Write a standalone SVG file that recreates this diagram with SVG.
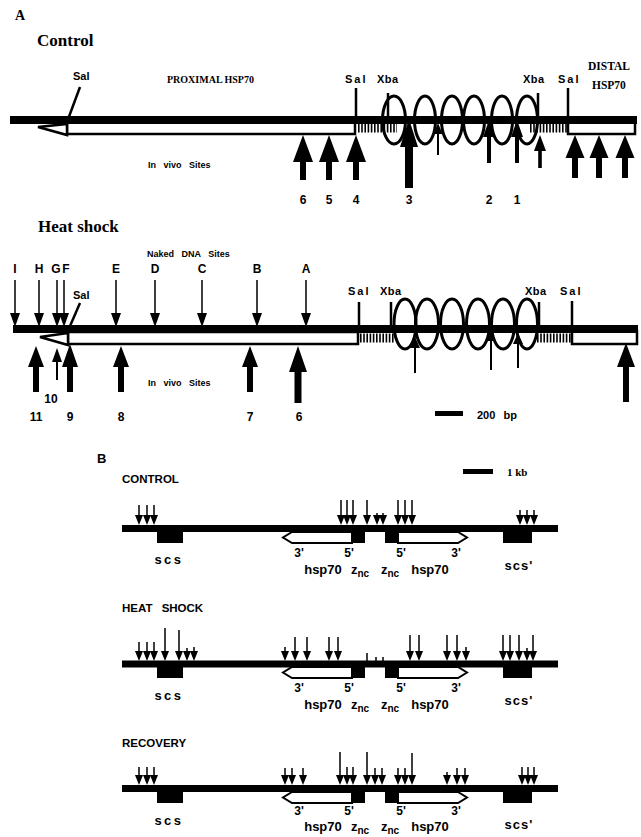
<svg xmlns="http://www.w3.org/2000/svg" width="641" height="837" viewBox="0 0 641 837">
<style>
.bar{stroke:#000;stroke-width:8;fill:none}
.box{fill:#fff;stroke:#000;stroke-width:2.5}
.hatch{stroke:#000;stroke-width:9;stroke-dasharray:1.6 1.6;fill:none}
.site{stroke:#000;stroke-width:2.5;fill:none}
.loop{fill:none;stroke:#000;stroke-width:3}
.ar{fill:#000}
.sh{stroke:#000;stroke-width:1.5;fill:none}
.bl{stroke:#000;stroke-width:7;fill:none}
.blk{fill:#000}
.gb{fill:#fff;stroke:#000;stroke-width:2}
.ser{font-family:"Liberation Serif","Times New Roman",serif;font-weight:bold;fill:#000}
.sans{font-family:"Liberation Sans",Arial,sans-serif;font-weight:bold;fill:#000}
.mid{text-anchor:middle}
</style>
<defs>
<path id="dh" d="M-5,-14 L5,-14 L0,0 Z"/>
<path id="bh" d="M-4,-10 L4,-10 L0,0 Z"/>
</defs>
<rect width="641" height="837" fill="#fff"/>

<g id="panelA-title">
<text class="ser" x="15" y="20" font-size="14">A</text>
</g>

<!-- ===== Control ===== -->
<g id="control">
<text class="ser" x="37" y="46" font-size="17">Control</text>
<text class="sans" x="73" y="80" font-size="11">Sal</text>
<text class="ser" x="167" y="83" font-size="10">PROXIMAL HSP70</text>
<text class="ser" x="588" y="70" font-size="11.5">DISTAL</text>
<text class="ser" x="592" y="89" font-size="11.5">HSP70</text>
<text class="sans" x="345" y="83" font-size="11" letter-spacing="2">Sal</text>
<text class="sans" x="377" y="83" font-size="11" letter-spacing="0.5">Xba</text>
<text class="sans" x="523" y="83" font-size="11" letter-spacing="0.5">Xba</text>
<text class="sans" x="558" y="83" font-size="11" letter-spacing="2">Sal</text>
<text class="sans" x="148" y="168" font-size="9" word-spacing="5">In vivo Sites</text>

<rect class="box" x="67" y="122" width="288" height="12"/>
<polygon class="box" points="38,127 67,124 67,135"/>
<rect class="box" x="568" y="122" width="67" height="12"/>
<line class="hatch" x1="358" y1="128" x2="397" y2="128"/>
<line class="hatch" x1="530" y1="128" x2="568" y2="128"/>
<line class="bar" x1="10" y1="120" x2="637" y2="120"/>
<line class="site" x1="80" y1="87" x2="67" y2="122"/>
<line class="site" x1="356" y1="88" x2="356" y2="122"/>
<line class="site" x1="388" y1="93" x2="388" y2="122"/>
<line class="site" x1="538" y1="93" x2="538" y2="122"/>
<line class="site" x1="568" y1="88" x2="568" y2="122"/>
<ellipse class="loop" cx="394" cy="120" rx="11.5" ry="24"/>
<ellipse class="loop" cx="425" cy="120" rx="10.5" ry="24"/>
<ellipse class="loop" cx="452" cy="120" rx="10.5" ry="24"/>
<ellipse class="loop" cx="474" cy="120" rx="10.5" ry="24"/>
<ellipse class="loop" cx="502" cy="120" rx="10.5" ry="24"/>
<ellipse class="loop" cx="527" cy="120" rx="10.5" ry="24"/>

<path class="ar" d="M303 135L313 162L306 162L306 180L300 180L300 162L293 162Z"/>
<path class="ar" d="M329 135L339 162L332 162L332 180L326 180L326 162L319 162Z"/>
<path class="ar" d="M356 135L366 162L359 162L359 180L353 180L353 162L346 162Z"/>
<path class="ar" d="M409 119L418 147L413 147L413 188L405 188L405 147L400 147Z"/>
<path class="ar" d="M438 123L442.5 134L439 134L439 155L437 155L437 134L433.5 134Z"/>
<path class="ar" d="M489 120L495 137L491 137L491 163L487 163L487 137L483 137Z"/>
<path class="ar" d="M517 120L523 137L519 137L519 163L515 163L515 137L511 137Z"/>
<path class="ar" d="M540 135L546 151L541.8 151L541.8 168L538.2 168L538.2 151L534 151Z"/>
<path class="ar" d="M575 135L584.5 158L578 158L578 178L572 178L572 158L565.5 158Z"/>
<path class="ar" d="M599 135L608.5 158L602 158L602 178L596 178L596 158L589.5 158Z"/>
<path class="ar" d="M625 135L634.5 158L628 158L628 178L622 178L622 158L615.5 158Z"/>

<text class="sans mid" x="303" y="204" font-size="12">6</text>
<text class="sans mid" x="329" y="204" font-size="12">5</text>
<text class="sans mid" x="356" y="204" font-size="12">4</text>
<text class="sans mid" x="409" y="204" font-size="12">3</text>
<text class="sans mid" x="489" y="204" font-size="12">2</text>
<text class="sans mid" x="517" y="204" font-size="12">1</text>
</g>

<!-- ===== Heat shock ===== -->
<g id="heatshock">
<text class="ser" x="38" y="232" font-size="17">Heat shock</text>
<text class="sans" x="147" y="257" font-size="9" word-spacing="5">Naked DNA Sites</text>
<text class="sans mid" x="15" y="273" font-size="12">I</text>
<text class="sans mid" x="39" y="273" font-size="12">H</text>
<text class="sans mid" x="56" y="273" font-size="12">G</text>
<text class="sans mid" x="66" y="273" font-size="12">F</text>
<text class="sans mid" x="116" y="273" font-size="12">E</text>
<text class="sans mid" x="155" y="273" font-size="12">D</text>
<text class="sans mid" x="202" y="273" font-size="12">C</text>
<text class="sans mid" x="257" y="273" font-size="12">B</text>
<text class="sans mid" x="306" y="273" font-size="12">A</text>
<text class="sans" x="73" y="299" font-size="11">Sal</text>
<text class="sans" x="348" y="295" font-size="11" letter-spacing="2">Sal</text>
<text class="sans" x="380" y="295" font-size="11" letter-spacing="0.5">Xba</text>
<text class="sans" x="525" y="295" font-size="11" letter-spacing="0.5">Xba</text>
<text class="sans" x="560" y="295" font-size="11" letter-spacing="2">Sal</text>
<text class="sans" x="148" y="386" font-size="9" word-spacing="5">In vivo Sites</text>

<rect class="box" x="68" y="332" width="290" height="12"/>
<polygon class="box" points="40,337 68,333 68,345"/>
<rect class="box" x="572" y="331" width="65" height="13"/>
<line class="hatch" x1="360" y1="338" x2="394" y2="338"/>
<line class="hatch" x1="537" y1="338" x2="571" y2="338"/>
<line class="bar" x1="13" y1="329" x2="638" y2="329"/>
<line class="site" x1="80" y1="303" x2="67" y2="333"/>
<line class="site" x1="359" y1="302" x2="359" y2="331"/>
<line class="site" x1="391" y1="302" x2="391" y2="331"/>
<line class="site" x1="539" y1="302" x2="539" y2="331"/>
<line class="site" x1="572" y1="301" x2="572" y2="331"/>
<ellipse class="loop" cx="405" cy="324" rx="11" ry="25"/>
<ellipse class="loop" cx="427" cy="324" rx="11.5" ry="25"/>
<ellipse class="loop" cx="452" cy="324" rx="11.5" ry="25"/>
<ellipse class="loop" cx="478" cy="324" rx="11.5" ry="25"/>
<ellipse class="loop" cx="503" cy="324" rx="11.5" ry="25"/>
<ellipse class="loop" cx="527" cy="324" rx="10.5" ry="25"/>

<g id="naked-sites">
<line class="sh" x1="15" y1="280" x2="15" y2="314"/><use href="#dh" x="15" y="327"/>
<line class="sh" x1="39" y1="280" x2="39" y2="314"/><use href="#dh" x="39" y="327"/>
<line class="sh" x1="57" y1="280" x2="57" y2="314"/><use href="#dh" x="57" y="327"/>
<line class="sh" x1="64" y1="280" x2="64" y2="314"/><use href="#dh" x="64" y="327"/>
<line class="sh" x1="116" y1="280" x2="116" y2="314"/><use href="#dh" x="116" y="327"/>
<line class="sh" x1="155" y1="280" x2="155" y2="314"/><use href="#dh" x="155" y="327"/>
<line class="sh" x1="202" y1="280" x2="202" y2="314"/><use href="#dh" x="202" y="327"/>
<line class="sh" x1="257" y1="280" x2="257" y2="314"/><use href="#dh" x="257" y="327"/>
<line class="sh" x1="306" y1="280" x2="306" y2="314"/><use href="#dh" x="306" y="327"/>
</g>

<path class="ar" d="M36 346L44 367L39 367L39 392L33 392L33 367L28 367Z"/>
<path class="ar" d="M57 348L62 362L58 362L58 380L56 380L56 362L52 362Z"/>
<path class="ar" d="M70 344L78 367L73 367L73 392L67 392L67 367L62 367Z"/>
<path class="ar" d="M121 346L129 367L124 367L124 392L118 392L118 367L113 367Z"/>
<path class="ar" d="M250 346L258 367L253 367L253 392L247 392L247 367L242 367Z"/>
<path class="ar" d="M298 346L307 372L301.5 372L301.5 403L294.5 403L294.5 372L289 372Z"/>
<path class="ar" d="M415 337L420 348L416 348L416 373L414 373L414 348L410 348Z"/>
<path class="ar" d="M491 331L495 341L492 341L492 370L490 370L490 341L487 341Z"/>
<path class="ar" d="M518 333L523 344L519 344L519 368L517 368L517 344L513 344Z"/>
<path class="ar" d="M626 343L635 367L629 367L629 402L623 402L623 367L617 367Z"/>

<text class="sans mid" x="51" y="403" font-size="12">10</text>
<text class="sans mid" x="36" y="421" font-size="12">11</text>
<text class="sans mid" x="70" y="421" font-size="12">9</text>
<text class="sans mid" x="121" y="421" font-size="12">8</text>
<text class="sans mid" x="250" y="421" font-size="12">7</text>
<text class="sans mid" x="299" y="421" font-size="12">6</text>

<rect class="blk" x="435" y="411" width="28" height="5"/>
<text class="sans" x="477" y="419" font-size="11" word-spacing="5">200 bp</text>
</g>

<!-- ===== Panel B ===== -->
<g id="panelB-title">
<text class="sans" x="97" y="463" font-size="13">B</text>
<rect class="blk" x="463" y="469" width="30" height="5"/>
<text class="ser" x="507" y="476" font-size="11">1 kb</text>
</g>

<g id="b-control">
<text class="sans" x="122" y="483" font-size="11.5">CONTROL</text>
<line class="bl" x1="122" y1="528.5" x2="558" y2="528.5"/>
<rect class="blk" x="157" y="525" width="26" height="18"/>
<rect class="blk" x="503" y="525" width="29" height="18"/>
<rect class="blk" x="352" y="525" width="13" height="18"/>
<rect class="blk" x="385" y="525" width="13" height="18"/>
<polygon class="gb" points="352,532 292,532 283,537.5 292,543 352,543"/>
<polygon class="gb" points="398,532 458,532 467,537.5 458,543 398,543"/>
<g id="b-control-sites">
<line class="sh" x1="139" y1="505" x2="139" y2="516"/><use href="#bh" x="139" y="525"/>
<line class="sh" x1="147" y1="505" x2="147" y2="516"/><use href="#bh" x="147" y="525"/>
<line class="sh" x1="154" y1="505" x2="154" y2="516"/><use href="#bh" x="154" y="525"/>
<line class="sh" x1="341" y1="500" x2="341" y2="516"/><use href="#bh" x="341" y="525"/>
<line class="sh" x1="347" y1="500" x2="347" y2="516"/><use href="#bh" x="347" y="525"/>
<line class="sh" x1="353" y1="500" x2="353" y2="516"/><use href="#bh" x="353" y="525"/>
<line class="sh" x1="367" y1="500" x2="367" y2="516"/><use href="#bh" x="367" y="525"/>
<line class="sh" x1="377" y1="513" x2="377" y2="516"/><use href="#bh" x="377" y="525"/>
<line class="sh" x1="383" y1="513" x2="383" y2="516"/><use href="#bh" x="383" y="525"/>
<line class="sh" x1="398" y1="500" x2="398" y2="516"/><use href="#bh" x="398" y="525"/>
<line class="sh" x1="405" y1="500" x2="405" y2="516"/><use href="#bh" x="405" y="525"/>
<line class="sh" x1="412" y1="500" x2="412" y2="516"/><use href="#bh" x="412" y="525"/>
<line class="sh" x1="520" y1="510" x2="520" y2="516"/><use href="#bh" x="520" y="525"/>
<line class="sh" x1="527" y1="510" x2="527" y2="516"/><use href="#bh" x="527" y="525"/>
<line class="sh" x1="534" y1="510" x2="534" y2="516"/><use href="#bh" x="534" y="525"/>
</g>
<text class="sans mid" x="169" y="564" font-size="13" letter-spacing="2.5">scs</text>
<text class="sans mid" x="299" y="557" font-size="12">3'</text>
<text class="sans mid" x="349" y="557" font-size="12">5'</text>
<text class="sans mid" x="401" y="557" font-size="12">5'</text>
<text class="sans mid" x="456" y="557" font-size="12">3'</text>
<text class="sans mid" x="323" y="574" font-size="13">hsp70</text>
<text class="sans" x="351" y="574" font-size="13">z<tspan font-size="10" dy="3">nc</tspan></text>
<text class="sans" x="381" y="574" font-size="13">z<tspan font-size="10" dy="3">nc</tspan></text>
<text class="sans mid" x="430" y="574" font-size="13">hsp70</text>
<text class="sans mid" x="519" y="570" font-size="13" letter-spacing="1">scs'</text>
</g>

<g id="b-heatshock">
<text class="sans" x="122" y="612" font-size="11.5" word-spacing="6">HEAT SHOCK</text>
<line class="bl" x1="122" y1="664" x2="558" y2="664"/>
<rect class="blk" x="157" y="661" width="26" height="17"/>
<rect class="blk" x="503" y="661" width="29" height="17"/>
<rect class="blk" x="352" y="661" width="13" height="17"/>
<rect class="blk" x="385" y="661" width="13" height="17"/>
<polygon class="gb" points="352,667 292,667 283,672.5 292,678 352,678"/>
<polygon class="gb" points="398,667 458,667 467,672.5 458,678 398,678"/>
<g id="b-heat-sites">
<line class="sh" x1="139" y1="642" x2="139" y2="652"/><use href="#bh" x="139" y="661"/>
<line class="sh" x1="147" y1="642" x2="147" y2="652"/><use href="#bh" x="147" y="661"/>
<line class="sh" x1="154" y1="642" x2="154" y2="652"/><use href="#bh" x="154" y="661"/>
<line class="sh" x1="165" y1="628" x2="165" y2="652"/><use href="#bh" x="165" y="661"/>
<line class="sh" x1="179" y1="630" x2="179" y2="652"/><use href="#bh" x="179" y="661"/>
<line class="sh" x1="187" y1="648" x2="187" y2="652"/><use href="#bh" x="187" y="661"/>
<line class="sh" x1="194" y1="647" x2="194" y2="652"/><use href="#bh" x="194" y="661"/>
<line class="sh" x1="285" y1="647" x2="285" y2="652"/><use href="#bh" x="285" y="661"/>
<line class="sh" x1="295" y1="637" x2="295" y2="652"/><use href="#bh" x="295" y="661"/>
<line class="sh" x1="307" y1="637" x2="307" y2="652"/><use href="#bh" x="307" y="661"/>
<line class="sh" x1="329" y1="637" x2="329" y2="652"/><use href="#bh" x="329" y="661"/>
<line class="sh" x1="338" y1="637" x2="338" y2="652"/><use href="#bh" x="338" y="661"/>
<line class="sh" x1="367" y1="653" x2="367" y2="661"/>
<line class="sh" x1="376" y1="657" x2="376" y2="661"/>
<line class="sh" x1="383" y1="657" x2="383" y2="661"/>
<line class="sh" x1="410" y1="635" x2="410" y2="652"/><use href="#bh" x="410" y="661"/>
<line class="sh" x1="419" y1="635" x2="419" y2="652"/><use href="#bh" x="419" y="661"/>
<line class="sh" x1="447" y1="635" x2="447" y2="652"/><use href="#bh" x="447" y="661"/>
<line class="sh" x1="457" y1="635" x2="457" y2="652"/><use href="#bh" x="457" y="661"/>
<line class="sh" x1="466" y1="647" x2="466" y2="652"/><use href="#bh" x="466" y="661"/>
<line class="sh" x1="503" y1="635" x2="503" y2="652"/><use href="#bh" x="503" y="661"/>
<line class="sh" x1="510" y1="635" x2="510" y2="652"/><use href="#bh" x="510" y="661"/>
<line class="sh" x1="519" y1="635" x2="519" y2="652"/><use href="#bh" x="519" y="661"/>
<line class="sh" x1="527" y1="648" x2="527" y2="652"/><use href="#bh" x="527" y="661"/>
<line class="sh" x1="533" y1="635" x2="533" y2="652"/><use href="#bh" x="533" y="661"/>
</g>
<text class="sans mid" x="169" y="700" font-size="13" letter-spacing="2.5">scs</text>
<text class="sans mid" x="299" y="692" font-size="12">3'</text>
<text class="sans mid" x="349" y="692" font-size="12">5'</text>
<text class="sans mid" x="401" y="692" font-size="12">5'</text>
<text class="sans mid" x="456" y="692" font-size="12">3'</text>
<text class="sans mid" x="323" y="709" font-size="13">hsp70</text>
<text class="sans" x="351" y="709" font-size="13">z<tspan font-size="10" dy="3">nc</tspan></text>
<text class="sans" x="381" y="709" font-size="13">z<tspan font-size="10" dy="3">nc</tspan></text>
<text class="sans mid" x="430" y="709" font-size="13">hsp70</text>
<text class="sans mid" x="519" y="705" font-size="13" letter-spacing="1">scs'</text>
</g>

<g id="b-recovery">
<text class="sans" x="122" y="747" font-size="11.5">RECOVERY</text>
<line class="bl" x1="122" y1="788.5" x2="558" y2="788.5"/>
<rect class="blk" x="157" y="785" width="26" height="18"/>
<rect class="blk" x="503" y="785" width="29" height="18"/>
<rect class="blk" x="352" y="785" width="13" height="18"/>
<rect class="blk" x="385" y="785" width="13" height="18"/>
<polygon class="gb" points="352,792 292,792 283,797.5 292,803 352,803"/>
<polygon class="gb" points="398,792 458,792 467,797.5 458,803 398,803"/>
<g id="b-recovery-sites">
<line class="sh" x1="139" y1="767" x2="139" y2="776"/><use href="#bh" x="139" y="785"/>
<line class="sh" x1="147" y1="767" x2="147" y2="776"/><use href="#bh" x="147" y="785"/>
<line class="sh" x1="154" y1="767" x2="154" y2="776"/><use href="#bh" x="154" y="785"/>
<line class="sh" x1="285" y1="768" x2="285" y2="776"/><use href="#bh" x="285" y="785"/>
<line class="sh" x1="292" y1="768" x2="292" y2="776"/><use href="#bh" x="292" y="785"/>
<line class="sh" x1="303" y1="768" x2="303" y2="776"/><use href="#bh" x="303" y="785"/>
<line class="sh" x1="340" y1="752" x2="340" y2="776"/><use href="#bh" x="340" y="785"/>
<line class="sh" x1="347" y1="767" x2="347" y2="776"/><use href="#bh" x="347" y="785"/>
<line class="sh" x1="353" y1="767" x2="353" y2="776"/><use href="#bh" x="353" y="785"/>
<line class="sh" x1="367" y1="752" x2="367" y2="776"/><use href="#bh" x="367" y="785"/>
<line class="sh" x1="375" y1="768" x2="375" y2="776"/><use href="#bh" x="375" y="785"/>
<line class="sh" x1="382" y1="768" x2="382" y2="776"/><use href="#bh" x="382" y="785"/>
<line class="sh" x1="398" y1="768" x2="398" y2="776"/><use href="#bh" x="398" y="785"/>
<line class="sh" x1="405" y1="768" x2="405" y2="776"/><use href="#bh" x="405" y="785"/>
<line class="sh" x1="412" y1="753" x2="412" y2="776"/><use href="#bh" x="412" y="785"/>
<line class="sh" x1="447" y1="772" x2="447" y2="776"/><use href="#bh" x="447" y="785"/>
<line class="sh" x1="457" y1="768" x2="457" y2="776"/><use href="#bh" x="457" y="785"/>
<line class="sh" x1="465" y1="768" x2="465" y2="776"/><use href="#bh" x="465" y="785"/>
<line class="sh" x1="522" y1="767" x2="522" y2="776"/><use href="#bh" x="522" y="785"/>
<line class="sh" x1="528" y1="767" x2="528" y2="776"/><use href="#bh" x="528" y="785"/>
<line class="sh" x1="534" y1="767" x2="534" y2="776"/><use href="#bh" x="534" y="785"/>
</g>
<text class="sans mid" x="169" y="825" font-size="13" letter-spacing="2.5">scs</text>
<text class="sans mid" x="299" y="815" font-size="12">3'</text>
<text class="sans mid" x="349" y="815" font-size="12">5'</text>
<text class="sans mid" x="401" y="815" font-size="12">5'</text>
<text class="sans mid" x="456" y="815" font-size="12">3'</text>
<text class="sans mid" x="323" y="831" font-size="13">hsp70</text>
<text class="sans" x="351" y="831" font-size="13">z<tspan font-size="10" dy="2.5">nc</tspan></text>
<text class="sans" x="381" y="831" font-size="13">z<tspan font-size="10" dy="2.5">nc</tspan></text>
<text class="sans mid" x="430" y="831" font-size="13">hsp70</text>
<text class="sans mid" x="519" y="829" font-size="13" letter-spacing="1">scs'</text>
</g>
</svg>
